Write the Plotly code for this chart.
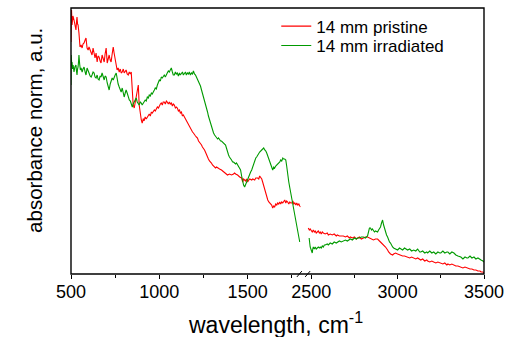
import plotly.graph_objects as go

# ---------------- data (wavenumber, absorbance norm.) ----------------
pristine_low = [
(500,2.32),(503,2.64),(506,2.49),(511,2.58),(517,2.54),(522,2.47),(528,2.44),(531,2.52),(534,2.57),(537,2.50),
(540,2.49),(545,2.41),(548,2.33),(551,2.27),(557,2.29),(563,2.26),(568,2.30),(574,2.31),(580,2.34),(585,2.36),
(591,2.26),(597,2.24),(602,2.27),(608,2.24),(614,2.21),(619,2.19),(625,2.26),(631,2.20),(636,2.16),(642,2.21),
(648,2.12),(653,2.18),(659,2.17),(665,2.13),(670,2.11),(676,2.19),(682,2.14),(688,2.12),(693,2.20),(699,2.26),
(705,2.11),(710,2.16),(716,2.19),(722,2.14),(727,2.12),(733,2.20),(739,2.27),(744,2.21),(750,2.16),(756,2.08),
(761,2.04),(767,2.06),(773,2.02),(779,2.05),(784,2.01),(790,2.02),(796,2.05),(801,2.01),(807,2.03),(812,2.04),
(818,2.00),(824,1.99),(830,2.02),(836,2.00),(841,2.02),(847,1.89),(852,1.69),(858,1.66),(864,1.72),(869,1.76),
(875,1.84),(881,1.89),(886,1.69),(892,1.60),(898,1.54),(903,1.51),(909,1.55),(915,1.54),(920,1.57),(926,1.55),
(932,1.57),(943,1.60),(949,1.58),(955,1.62),(960,1.61),(966,1.63),(972,1.64),(977,1.63),(983,1.66),(989,1.67),
(995,1.66),(1000,1.69),(1006,1.70),(1011,1.71),(1017,1.69),(1022,1.72),(1028,1.72),(1034,1.70),(1040,1.73),
(1045,1.72),(1051,1.70),(1057,1.72),(1062,1.70),(1068,1.71),(1074,1.68),(1079,1.70),(1085,1.69),(1091,1.66),
(1096,1.67),(1102,1.66),(1108,1.63),(1114,1.64),(1119,1.61),(1125,1.62),(1131,1.58),(1136,1.59),(1142,1.57),
(1148,1.55),(1153,1.54),(1159,1.52),(1165,1.50),(1170,1.47),(1176,1.46),(1182,1.44),(1188,1.42),(1193,1.41),
(1199,1.39),(1205,1.38),(1210,1.37),(1216,1.36),(1222,1.33),(1227,1.32),(1233,1.30),(1239,1.29),(1244,1.27),
(1250,1.26),(1256,1.24),(1261,1.22),(1267,1.19),(1273,1.17),(1278,1.15),(1284,1.13),(1290,1.12),(1295,1.11),
(1301,1.09),(1307,1.08),(1313,1.07),(1318,1.06),(1324,1.07),(1330,1.06),(1341,1.05),(1352,1.04),(1358,1.03),
(1369,1.02),(1375,1.00),(1386,0.99),(1397,1.00),(1409,0.99),(1420,1.00),(1426,1.01),(1432,1.00),(1443,0.99),
(1455,0.97),(1466,0.96),(1472,0.92),(1477,0.95),(1483,0.94),(1489,0.93),(1494,0.95),(1500,0.92),(1506,0.94),
(1512,0.95),(1523,0.94),(1529,0.95),(1540,0.94),(1546,0.96),(1557,0.96),(1563,0.95),(1568,0.98),(1574,0.97),
(1580,0.95),(1585,0.92),(1591,0.88),(1597,0.84),(1603,0.79),(1608,0.76),(1614,0.74),(1620,0.72),(1625,0.71),
(1631,0.69),(1636,0.69),(1642,0.66),(1648,0.68),(1653,0.67),(1659,0.70),(1665,0.69),(1670,0.71),(1676,0.70),
(1682,0.72),(1687,0.70),(1693,0.72),(1699,0.71),(1704,0.73),(1710,0.74),(1716,0.71),(1721,0.73),(1727,0.72),
(1733,0.70),(1739,0.72),(1744,0.71),(1750,0.71),(1756,0.73),(1761,0.70),(1767,0.71),(1773,0.69),(1778,0.71),
(1784,0.69),(1790,0.70),(1795,0.68),(1800,0.67),
]

irradiated_low = [
(500,1.89),(501,2.19),(504,2.10),(506,2.12),(509,2.05),(512,2.09),(517,2.02),(522,2.07),(528,2.09),(531,2.03),
(534,1.99),(537,2.05),(540,2.07),(543,2.13),(545,2.19),(549,2.10),(553,2.04),(557,2.06),(563,2.02),(568,2.05),
(574,2.07),(580,2.02),(585,1.99),(591,2.06),(597,2.02),(602,2.01),(608,1.98),(614,1.97),(619,1.99),(625,2.02),
(631,2.01),(636,1.97),(642,1.96),(648,1.99),(653,1.95),(659,1.94),(665,1.98),(670,1.97),(676,2.01),(682,1.96),
(688,1.94),(693,1.98),(699,1.97),(705,1.91),(710,1.87),(716,1.84),(722,1.90),(727,1.92),(733,1.96),(739,1.94),
(744,1.97),(750,1.99),(756,2.01),(761,1.94),(767,1.90),(773,1.87),(779,1.85),(784,1.82),(790,1.86),(796,1.81),
(801,1.77),(807,1.81),(812,1.84),(818,1.81),(824,1.77),(830,1.74),(836,1.73),(841,1.71),(847,1.67),(852,1.70),
(858,1.72),(864,1.74),(869,1.76),(875,1.72),(881,1.70),(886,1.69),(892,1.72),(898,1.71),(903,1.69),(909,1.71),
(915,1.72),(920,1.74),(926,1.73),(932,1.77),(938,1.76),(943,1.79),(949,1.78),(955,1.81),(960,1.80),(966,1.83),
(972,1.84),(977,1.86),(983,1.85),(989,1.89),(995,1.91),(1000,1.94),(1006,1.93),(1011,1.97),(1017,1.96),
(1022,1.98),(1028,1.99),(1034,1.97),(1040,2.00),(1045,2.01),(1051,2.03),(1057,2.02),(1062,2.04),(1068,2.06),
(1074,2.02),(1079,1.99),(1085,1.99),(1091,2.02),(1096,2.00),(1102,2.01),(1108,1.98),(1114,2.01),(1119,1.99),
(1125,2.00),(1131,2.02),(1136,1.99),(1142,2.00),(1148,2.02),(1153,1.99),(1159,2.01),(1165,2.00),(1170,2.02),
(1176,1.99),(1182,2.01),(1188,2.00),(1193,2.03),(1199,2.00),(1205,1.99),(1210,1.97),(1216,1.95),(1222,1.93),
(1227,1.91),(1233,1.88),(1239,1.84),(1244,1.81),(1250,1.77),(1256,1.74),(1261,1.70),(1267,1.67),(1273,1.62),
(1278,1.58),(1284,1.54),(1290,1.50),(1295,1.47),(1301,1.44),(1307,1.41),(1313,1.39),(1318,1.38),(1324,1.37),
(1330,1.35),(1335,1.36),(1341,1.34),(1347,1.33),(1352,1.33),(1358,1.32),(1364,1.30),(1369,1.30),(1375,1.29),
(1380,1.26),(1386,1.21),(1392,1.19),(1397,1.17),(1403,1.16),(1409,1.14),(1415,1.12),(1420,1.12),(1426,1.11),
(1432,1.10),(1437,1.11),(1443,1.09),(1449,1.08),(1455,1.06),(1460,1.04),(1466,0.98),(1472,0.91),(1477,0.89),
(1483,0.87),(1489,0.90),(1494,0.92),(1500,0.94),(1506,0.97),(1512,1.00),(1517,1.02),(1523,1.04),(1529,1.07),
(1534,1.10),(1540,1.14),(1546,1.16),(1551,1.17),(1557,1.19),(1563,1.21),(1568,1.22),(1574,1.23),(1580,1.24),
(1585,1.25),(1591,1.26),(1597,1.24),(1603,1.23),(1608,1.21),(1614,1.18),(1620,1.14),(1625,1.11),(1631,1.08),
(1636,1.06),(1642,1.04),(1648,1.07),(1653,1.06),(1659,1.08),(1665,1.09),(1670,1.10),(1676,1.11),(1682,1.12),
(1687,1.14),(1693,1.13),(1699,1.16),(1704,1.15),(1710,1.15),(1716,1.14),(1721,1.08),(1727,0.97),(1733,0.92),
(1739,0.86),(1744,0.81),(1750,0.77),(1756,0.70),(1761,0.64),(1767,0.57),(1773,0.51),(1778,0.46),(1784,0.41),
(1790,0.37),(1795,0.32),
]

pristine_high = [
(2483,0.46),(2489,0.44),(2494,0.45),(2500,0.43),(2506,0.42),(2512,0.44),(2518,0.42),(2523,0.43),(2529,0.41),
(2535,0.42),(2541,0.43),(2547,0.41),(2552,0.42),(2558,0.40),(2564,0.42),(2570,0.41),(2581,0.40),(2593,0.41),
(2599,0.39),(2610,0.40),(2622,0.39),(2633,0.40),(2645,0.38),(2651,0.39),(2663,0.38),(2674,0.38),(2686,0.38),
(2698,0.37),(2709,0.38),(2721,0.36),(2727,0.37),(2738,0.36),(2750,0.37),(2761,0.35),(2767,0.36),(2779,0.37),
(2790,0.35),(2802,0.36),(2814,0.37),(2826,0.37),(2837,0.36),(2843,0.35),(2854,0.34),(2860,0.34),(2872,0.35),
(2884,0.35),(2895,0.33),(2901,0.32),(2913,0.30),(2924,0.28),(2930,0.27),(2942,0.24),(2948,0.22),(2959,0.20),
(2971,0.19),(2977,0.20),(2988,0.21),(3000,0.20),(3011,0.19),(3017,0.19),(3029,0.18),(3040,0.18),(3052,0.17),
(3058,0.17),(3070,0.16),(3081,0.17),(3093,0.16),(3105,0.15),(3116,0.16),(3128,0.14),(3134,0.14),(3145,0.15),
(3157,0.13),(3169,0.14),(3174,0.13),(3186,0.12),(3198,0.13),(3209,0.12),(3221,0.11),(3233,0.12),(3244,0.11),
(3250,0.11),(3262,0.10),(3273,0.11),(3285,0.09),(3291,0.10),(3302,0.09),(3314,0.10),(3326,0.09),(3337,0.08),
(3349,0.08),(3360,0.07),(3366,0.07),(3378,0.06),(3390,0.07),(3401,0.06),(3407,0.06),(3419,0.05),(3430,0.05),
(3442,0.04),(3453,0.04),(3465,0.03),(3477,0.03),(3483,0.02),(3494,0.02),(3500,0.01),
]

irradiated_high = [
(2488,0.36),(2491,0.30),(2494,0.27),(2500,0.24),(2506,0.21),(2509,0.25),(2512,0.27),(2518,0.25),(2523,0.27),
(2529,0.25),(2535,0.26),(2541,0.27),(2547,0.26),(2552,0.27),(2558,0.26),(2564,0.28),(2570,0.27),(2576,0.29),
(2581,0.29),(2593,0.30),(2599,0.29),(2610,0.31),(2622,0.30),(2633,0.32),(2645,0.31),(2651,0.32),(2663,0.33),
(2674,0.32),(2686,0.33),(2698,0.34),(2709,0.33),(2721,0.35),(2727,0.35),(2738,0.34),(2750,0.36),(2761,0.35),
(2767,0.36),(2779,0.36),(2790,0.37),(2802,0.37),(2814,0.36),(2826,0.38),(2831,0.44),(2837,0.46),(2843,0.46),
(2849,0.44),(2854,0.45),(2860,0.44),(2866,0.42),(2872,0.43),(2878,0.42),(2884,0.42),(2890,0.44),(2895,0.45),
(2901,0.47),(2907,0.51),(2913,0.54),(2919,0.49),(2924,0.45),(2930,0.42),(2936,0.39),(2942,0.37),(2948,0.34),
(2953,0.32),(2959,0.31),(2965,0.28),(2971,0.27),(2977,0.26),(2988,0.25),(3000,0.24),(3011,0.26),(3017,0.25),
(3029,0.24),(3040,0.26),(3052,0.24),(3058,0.24),(3070,0.25),(3081,0.23),(3093,0.24),(3105,0.23),(3116,0.25),
(3128,0.22),(3134,0.22),(3145,0.23),(3157,0.21),(3169,0.22),(3174,0.21),(3186,0.23),(3198,0.21),(3209,0.22),
(3221,0.20),(3233,0.22),(3244,0.21),(3250,0.21),(3262,0.23),(3273,0.21),(3285,0.22),(3291,0.22),(3302,0.20),
(3314,0.22),(3326,0.21),(3337,0.19),(3349,0.18),(3360,0.17),(3366,0.17),(3378,0.15),(3390,0.17),(3401,0.16),
(3407,0.16),(3419,0.18),(3430,0.16),(3442,0.17),(3453,0.15),(3465,0.16),(3477,0.14),(3483,0.14),(3494,0.13),
(3500,0.12),
]

series_names = ["14 mm pristine", "14 mm irradiated"]
low_ticks = [500, 1000, 1500]
low_minor = [750, 1250, 1750]
high_ticks = [2500, 3000, 3500]
high_minor = [2750, 3250]

RED = "#ff0000"
GREEN = "#009a00"
FONT = "Liberation Sans, Arial, sans-serif"

fig = go.Figure()

def add(data, name, color, xaxis, show, legend):
    xs = [p[0] for p in data]
    ys = [p[1] for p in data]
    fig.add_trace(go.Scatter(x=xs, y=ys, mode="lines", name=name,
                             line=dict(color=color, width=1.1),
                             xaxis=xaxis, yaxis="y", showlegend=show,
                             legend=legend, legendgroup=name))

add(pristine_low, series_names[0], RED, "x", True, "legend")
add(irradiated_low, series_names[1], GREEN, "x", True, "legend2")
add(pristine_high, series_names[0], RED, "x2", False, "legend")
add(irradiated_high, series_names[1], GREEN, "x2", False, "legend2")

def xaxis_style(domain, rng, ticks, minor):
    return dict(domain=domain, range=rng, tickvals=ticks, anchor="y",
                showgrid=False, zeroline=False, showline=False,
                ticks="outside", ticklen=4, tickwidth=1.2, tickcolor="black",
                ticklabelstandoff=-3,
                tickfont=dict(family=FONT, size=18, color="black"),
                minor=dict(ticks="outside", ticklen=3, tickwidth=1, tickcolor="black",
                           tickvals=minor))

legend_style = dict(xanchor="left", yanchor="top", bgcolor="rgba(0,0,0,0)",
                    font=dict(family=FONT, size=17, color="black"))

fig.update_layout(
    width=520, height=337,
    margin=dict(l=71, r=36, t=8, b=63),
    paper_bgcolor="white", plot_bgcolor="white",
    xaxis=xaxis_style([0, 0.556], [500, 1800], low_ticks, low_minor),
    xaxis2=xaxis_style([0.567, 1], [2465, 3500], high_ticks, high_minor),
    yaxis=dict(range=[0, 2.66], showticklabels=False, ticks="", showgrid=False,
               zeroline=False, showline=False),
    legend=dict(x=0.497, y=0.998, **legend_style),
    legend2=dict(x=0.497, y=0.925, **legend_style),
    shapes=[
        dict(type="rect", xref="paper", yref="paper", x0=0, y0=0, x1=1, y1=1,
             line=dict(color="black", width=1.4)),
        dict(type="line", xref="paper", yref="paper", x0=0.547, y0=-0.011, x1=0.559, y1=0.011,
             line=dict(color="black", width=1)),
        dict(type="line", xref="paper", yref="paper", x0=0.567, y0=-0.011, x1=0.579, y1=0.011,
             line=dict(color="black", width=1)),
    ],
    annotations=[
        dict(text="absorbance norm, a.u.", xref="paper", yref="paper", x=0, y=0.538,
             xshift=-36, xanchor="center", yanchor="middle", textangle=-90, showarrow=False,
             font=dict(family=FONT, size=20.5, color="black")),
        dict(text="wavelength, cm<sup>-1</sup>", xref="paper", yref="paper", x=0.496, y=-0.184,
             xanchor="center", yanchor="middle", showarrow=False,
             font=dict(family=FONT, size=23, color="black")),
    ],
)

fig.write_html("out.html")
